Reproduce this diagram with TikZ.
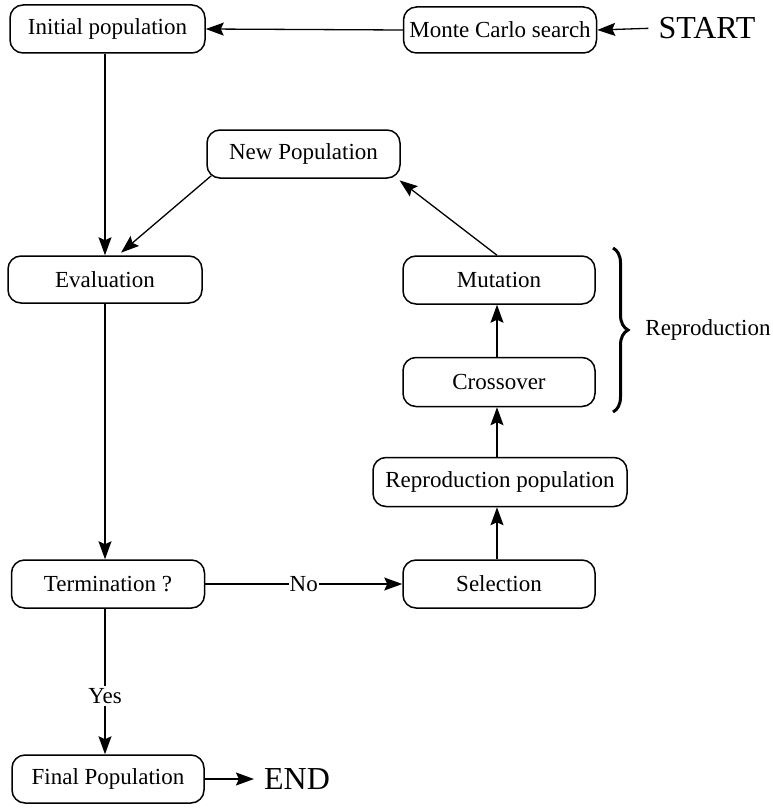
\documentclass[tikz,border=0pt]{standalone}
\usepackage{fontspec}
\setmainfont{Liberation Serif}
\usetikzlibrary{arrows.meta,decorations.pathreplacing,calc}
\begin{document}
\begin{tikzpicture}[x=1pt,y=-1pt,
  box/.style={draw,line width=1.5pt,rounded corners=13pt,inner sep=0pt,font=\fontsize{23}{26}\selectfont},
  big/.style={inner sep=0pt,font=\fontsize{32}{36}\selectfont},
  lbl/.style={inner sep=2pt,font=\fontsize{23}{26}\selectfont},
  arr/.style={line width=1.3pt,-{Stealth[length=18pt,width=13pt,inset=3pt]}}]
\useasboundingbox (0,0) rectangle (773,808);
\node[box,minimum width=195pt,minimum height=48pt] (init) at (107.5,29) {Initial population};
\node[box,minimum width=193pt,minimum height=46pt] (mc) at (500,30) {Monte Carlo search};
\node[big] (start) at (707,28) {START};
\node[box,minimum width=193pt,minimum height=48pt] (newp) at (303.5,154) {New Population};
\node[box,minimum width=194pt,minimum height=47pt] (eval) at (105,279.5) {Evaluation};
\node[box,minimum width=192pt,minimum height=48pt] (mut) at (499,280) {Mutation};
\node[box,minimum width=192pt,minimum height=49pt] (cross) at (499,382) {Crossover};
\node[box,minimum width=254pt,minimum height=49pt] (repp) at (500,482) {Reproduction population};
\node[box,minimum width=192pt,minimum height=48pt] (sel) at (499,584) {Selection};
\node[box,minimum width=193pt,minimum height=48pt] (term) at (108,584) {Termination ?};
\node[box,minimum width=192pt,minimum height=48pt] (final) at (108,779) {Final Population};
\node[big] (endn) at (297,779) {END};
\node[lbl] (replbl) at (708,330) {Reproduction};
\coordinate (brtop) at (613,248);
\coordinate (brbot) at (613,412);

\draw[arr] (mc.west) -- (init.east);
\draw[arr,shorten <=10pt] (start.west) -- (mc.east);
\draw[arr] (eval.north |- init.south) -- (eval.north);
\draw[arr,shorten >=4pt] ([xshift=5pt,yshift=3pt]newp.south west) -- ([xshift=13pt]eval.north);
\draw[arr,shorten >=1pt] ([xshift=-2pt]mut.north) -- ([xshift=-2pt,yshift=-1pt]newp.south east);
\draw[arr] (eval.south) -- (eval.south |- term.north);
\draw[arr] (term.east) -- node[lbl,fill=white,inner sep=1pt] {No} (sel.west);
\draw[arr] ([xshift=-2pt]sel.north) -- ([xshift=-2pt]repp.south -| sel.north);
\draw[arr] ([xshift=-2pt]repp.north -| sel.north) -- ([xshift=-2pt]cross.south);
\draw[arr] ([xshift=-2pt]cross.north) -- ([xshift=-2pt]mut.south);
\draw[arr] ([xshift=-3pt]term.south) -- node[lbl,fill=white,pos=0.6] {Yes} ([xshift=-3pt]final.north);
\draw[arr,shorten >=10pt] (final.east) -- (endn.west);
\draw[line width=3pt,decorate,decoration={brace,amplitude=15pt}] (brtop) -- (brbot);
\end{tikzpicture}
\end{document}
